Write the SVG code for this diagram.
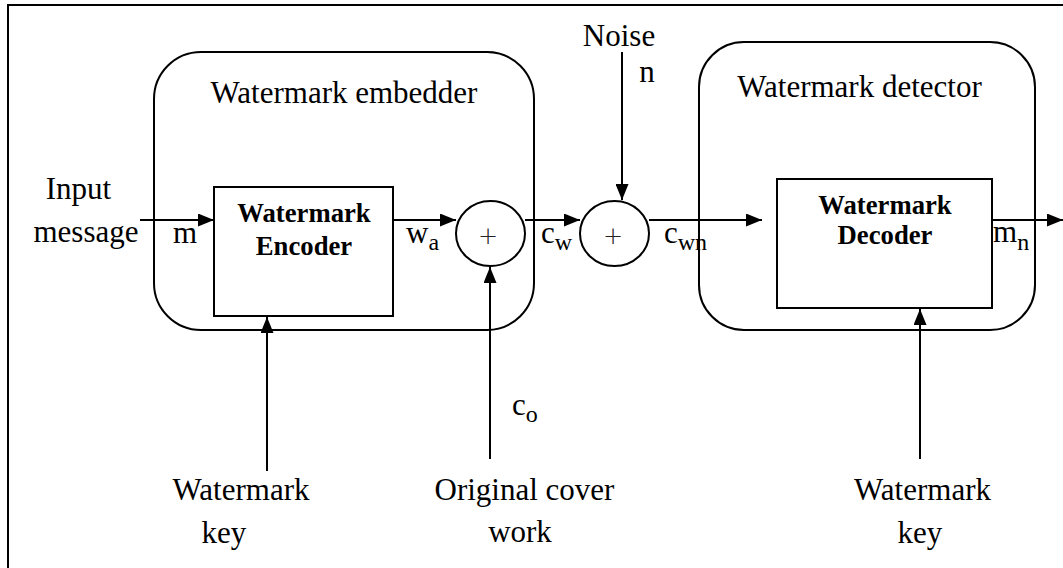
<svg xmlns="http://www.w3.org/2000/svg" width="1063" height="568" viewBox="0 0 1063 568">
<style>
.ln{stroke:#000;stroke-width:2;fill:none}
.bx{stroke:#000;stroke-width:2;fill:#fff}
.t{font-family:"Liberation Serif","Times New Roman",serif;font-size:31px;fill:#000}
.b{font-family:"Liberation Serif","Times New Roman",serif;font-size:26.7px;font-weight:bold;fill:#000;text-anchor:middle}
.m{font-family:"Liberation Serif","Times New Roman",serif;font-size:31px;fill:#000}
.s{font-size:24px}
.p{font-family:"DejaVu Sans","Liberation Sans",sans-serif;font-size:24px;font-weight:200;fill:#222;text-anchor:middle}
.c{text-anchor:middle}
</style>
<defs>
<marker id="ah" viewBox="0 0 16 13" refX="16" refY="6.5" markerWidth="16" markerHeight="13" markerUnits="userSpaceOnUse" orient="auto">
<path d="M0,0 L16,6.5 L0,13 Z" fill="#000"/>
</marker>
</defs>
<rect width="1063" height="568" fill="#fff"/>
<path class="ln" d="M8,568 V5 H1063"/>
<g id="embedder">
<rect class="ln" x="154" y="52" width="380" height="278" rx="47" ry="47"/>
<text class="t c" x="344" y="103">Watermark embedder</text>
</g>
<g id="detector">
<rect class="ln" x="699" y="42" width="336" height="288" rx="45" ry="45"/>
<text class="t c" x="859.5" y="97">Watermark detector</text>
</g>
<g id="encoder">
<rect class="bx" x="214" y="187" width="179" height="129"/>
<text class="b" x="304" y="222">Watermark</text>
<text class="b" x="304" y="255">Encoder</text>
</g>
<g id="decoder">
<rect class="bx" x="777" y="179" width="215" height="129"/>
<text class="b" x="885" y="214">Watermark</text>
<text class="b" x="885" y="244">Decoder</text>
</g>
<g id="adder1">
<ellipse class="bx" cx="490.5" cy="233.5" rx="34.5" ry="32.5"/>
<text class="p" x="488" y="244">+</text>
</g>
<g id="adder2">
<ellipse class="bx" cx="614.5" cy="233.5" rx="34.5" ry="32.5"/>
<text class="p" x="613" y="244">+</text>
</g>
<g id="connectors">
<line class="ln" x1="140" y1="220" x2="214" y2="220" marker-end="url(#ah)"/>
<line class="ln" x1="393" y1="220" x2="456" y2="220" marker-end="url(#ah)"/>
<line class="ln" x1="525" y1="220" x2="580" y2="220" marker-end="url(#ah)"/>
<line class="ln" x1="649" y1="220" x2="762" y2="220" marker-end="url(#ah)"/>
<line class="ln" x1="992" y1="220" x2="1063" y2="220" marker-end="url(#ah)"/>
<line class="ln" x1="622" y1="52" x2="622" y2="200" marker-end="url(#ah)"/>
<line class="ln" x1="267" y1="471" x2="267" y2="317" marker-end="url(#ah)"/>
<line class="ln" x1="490" y1="459" x2="490" y2="267" marker-end="url(#ah)"/>
<line class="ln" x1="920" y1="459" x2="920" y2="309" marker-end="url(#ah)"/>
</g>
<g id="labels">
<text class="t c" x="78.5" y="199">Input</text>
<text class="t c" x="86" y="242">message</text>
<text class="m" x="173" y="243">m</text>
<text class="m" x="406" y="243">w<tspan class="s" dy="7">a</tspan></text>
<text class="m" x="541" y="243">c<tspan class="s" dy="7">w</tspan></text>
<text class="m" x="664" y="243">c<tspan class="s" dy="7">wn</tspan></text>
<text class="m" x="993" y="242">m<tspan class="s" dy="8">n</tspan></text>
<text class="m" x="512" y="415">c<tspan class="s" dy="7">o</tspan></text>
<text class="t c" x="619" y="46">Noise</text>
<text class="t c" x="647" y="82">n</text>
<text class="t c" x="241" y="500">Watermark</text>
<text class="t c" x="224" y="543">key</text>
<text class="t c" x="524.5" y="500">Original cover</text>
<text class="t c" x="520" y="542">work</text>
<text class="t c" x="922.5" y="500">Watermark</text>
<text class="t c" x="920" y="543">key</text>
</g>
</svg>
